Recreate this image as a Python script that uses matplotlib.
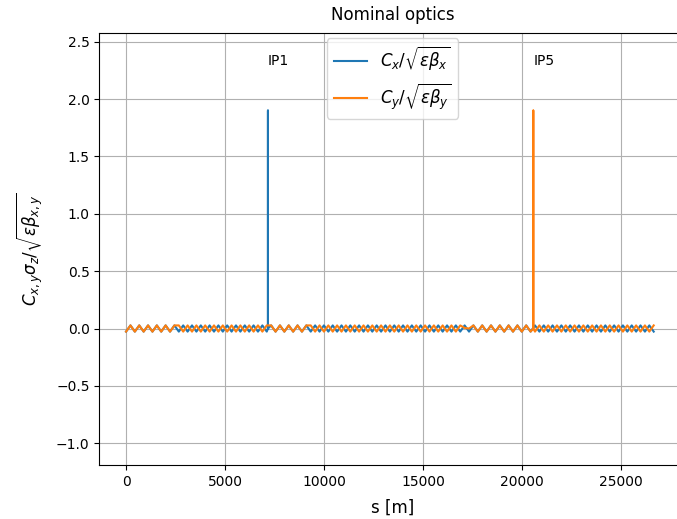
import matplotlib
matplotlib.use('Agg')
import matplotlib.pyplot as plt

# longitudinal position [m], blue series (spike at IP1)
s_x = [0, 222, 444, 666, 888, 1110, 1332, 1554, 1776, 1998,
       2220, 2442, 2664, 2886, 3108, 3330, 3552, 3774, 3996, 4218,
       4440, 4662, 4884, 5106, 5328, 5550, 5772, 5994, 6216, 6438,
       6660, 6882, 7104, 7164, 7164, 7164, 7326, 7548, 7770, 7992, 8214, 8436, 8658,
       8880, 9102, 9324, 9546, 9768, 9990, 10212, 10434, 10656, 10878,
       11100, 11322, 11544, 11766, 11988, 12210, 12432, 12654, 12876, 13098,
       13320, 13542, 13764, 13986, 14208, 14430, 14652, 14874, 15096, 15318,
       15540, 15762, 15984, 16206, 16428, 16650, 16872, 17094, 17316, 17538,
       17760, 17982, 18204, 18426, 18648, 18870, 19092, 19314, 19536, 19758,
       19980, 20202, 20424, 20646, 20868, 21090, 21312, 21534, 21756, 21978,
       22200, 22422, 22644, 22866, 23088, 23310, 23532, 23754, 23976, 24198,
       24420, 24642, 24864, 25086, 25308, 25530, 25752, 25974, 26196, 26418,
       26640]
cx = [-0.027, 0.027, -0.027, 0.027, -0.027, 0.027, -0.027, 0.027, -0.027, 0.027,
      -0.027, 0.027, -0.027, 0.027, -0.027, 0.027, -0.027, 0.027, -0.027, 0.027,
      -0.027, 0.027, -0.027, 0.027, -0.027, 0.027, -0.027, 0.027, -0.027, 0.027,
      -0.027, 0.027, -0.027, 0.0, 1.9, 0.0, 0.027, -0.027, 0.027, -0.027, 0.027, -0.027, 0.027,
      -0.027, 0.027, -0.027, 0.027, -0.027, 0.027, -0.027, 0.027, -0.027, 0.027,
      -0.027, 0.027, -0.027, 0.027, -0.027, 0.027, -0.027, 0.027, -0.027, 0.027,
      -0.027, 0.027, -0.027, 0.027, -0.027, 0.027, -0.027, 0.027, -0.027, 0.027,
      -0.027, 0.027, -0.027, 0.027, -0.027, 0.027, -0.027, 0.027, -0.027, 0.027,
      -0.027, 0.027, -0.027, 0.027, -0.027, 0.027, -0.027, 0.027, -0.027, 0.027,
      -0.027, 0.027, -0.027, 0.027, -0.027, 0.027, -0.027, 0.027, -0.027, 0.027,
      -0.027, 0.027, -0.027, 0.027, -0.027, 0.027, -0.027, 0.027, -0.027, 0.027,
      -0.027, 0.027, -0.027, 0.027, -0.027, 0.027, -0.027, 0.027, -0.027, 0.027,
      -0.027]

# orange series (spike at IP5)
s_y = [0, 222, 444, 666, 888, 1110, 1332, 1554, 1776, 1998,
       2220, 2442, 2664, 2886, 3108, 3330, 3552, 3774, 3996, 4218,
       4440, 4662, 4884, 5106, 5328, 5550, 5772, 5994, 6216, 6438,
       6660, 6882, 7104, 7326, 7548, 7770, 7992, 8214, 8436, 8658,
       8880, 9102, 9324, 9546, 9768, 9990, 10212, 10434, 10656, 10878,
       11100, 11322, 11544, 11766, 11988, 12210, 12432, 12654, 12876, 13098,
       13320, 13542, 13764, 13986, 14208, 14430, 14652, 14874, 15096, 15318,
       15540, 15762, 15984, 16206, 16428, 16650, 16872, 17094, 17316, 17538,
       17760, 17982, 18204, 18426, 18648, 18870, 19092, 19314, 19536, 19758,
       19980, 20202, 20424, 20561, 20561, 20561, 20646, 20868, 21090, 21312, 21534, 21756, 21978,
       22200, 22422, 22644, 22866, 23088, 23310, 23532, 23754, 23976, 24198,
       24420, 24642, 24864, 25086, 25308, 25530, 25752, 25974, 26196, 26418,
       26640]
cy = [-0.027, 0.027, -0.027, 0.027, -0.027, 0.027, -0.027, 0.027, -0.027, 0.027,
      -0.027, 0.027, 0.027, -0.027, 0.027, -0.027, 0.027, -0.027, 0.027, -0.027,
      0.027, -0.027, 0.027, -0.027, 0.027, -0.027, 0.027, -0.027, 0.027, -0.027,
      0.027, -0.027, 0.027, 0.027, -0.027, 0.027, -0.027, 0.027, -0.027, 0.027,
      -0.027, 0.027, 0.027, -0.027, 0.027, -0.027, 0.027, -0.027, 0.027, -0.027,
      0.027, -0.027, 0.027, -0.027, 0.027, -0.027, 0.027, -0.027, 0.027, -0.027,
      0.027, -0.027, 0.027, -0.027, 0.027, -0.027, 0.027, -0.027, 0.027, -0.027,
      0.027, -0.027, 0.027, -0.027, 0.027, -0.027, 0.027, 0.005, 0.0, 0.027,
      -0.027, 0.027, -0.027, 0.027, -0.027, 0.027, -0.027, 0.027, -0.027, 0.027,
      -0.027, 0.027, -0.027, 0.0, 1.9, 0.0, -0.027, 0.027, -0.027, 0.027, -0.027, 0.027, -0.027,
      0.027, -0.027, 0.027, -0.027, 0.027, -0.027, 0.027, -0.027, 0.027, -0.027,
      0.027, -0.027, 0.027, -0.027, 0.027, -0.027, 0.027, -0.027, 0.027, -0.027,
      0.027]

ip_names = ['IP1', 'IP5']
ip_s = [7164, 20561]

fig = plt.figure(figsize=(6.77, 5.19), dpi=100)
ax = fig.add_axes([0.1467, 0.104, 0.866, 0.8333])

ax.plot(s_x, cx, label=r'$C_x/\sqrt{\varepsilon\beta_x}$')
ax.plot(s_y, cy, label=r'$C_y/\sqrt{\varepsilon\beta_y}$')

for name, s in zip(ip_names, ip_s):
    ax.text(s, 2.3, name)

ax.set_xlim(-1350, 28250)
ax.set_ylim(-1.19, 2.58)
ax.grid(True)
ax.set_title('Nominal optics', pad=9)
ax.set_xlabel('s [m]', fontsize=12, labelpad=7)
ax.set_ylabel(r'$C_{x,y}\sigma_z/\sqrt{\varepsilon\beta_{x,y}}$', fontsize=12, labelpad=8)
ax.legend(loc='upper center', fontsize=12, borderaxespad=0.35)

fig.savefig('out.png', dpi=100)
